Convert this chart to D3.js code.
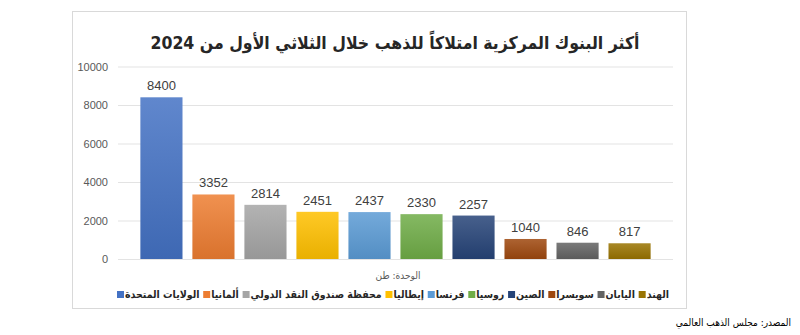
<!DOCTYPE html>
<html lang="ar">
<head>
<meta charset="utf-8">
<script src="https://cdn.jsdelivr.net/npm/d3@7/dist/d3.min.js"></script>
<style>
  html, body { margin: 0; padding: 0; background: #fff; }
  svg { display: block; font-family: Arial, "Liberation Sans", "DejaVu Sans", sans-serif; }
  .ar { font-family: "DejaVu Sans Condensed", "DejaVu Sans", sans-serif; }
</style>
</head>
<body>
<svg id="chart" width="800" height="335"></svg>
<script>
// Gold holdings of the top central banks, Q1 2024 (tonnes)
const categories = [
  "الولايات المتحدة", "ألمانيا", "محفظة صندوق النقد الدولي", "إيطاليا", "فرنسا",
  "روسيا", "الصين", "سويسرا", "اليابان", "الهند"
];
const values = [8400, 3352, 2814, 2451, 2437, 2330, 2257, 1040, 846, 817];
const colors = [
  "#4472c4", "#ed7d31", "#a5a5a5", "#ffc000", "#5b9bd5",
  "#70ad47", "#264478", "#9e480e", "#636363", "#997300"
];
const yTicks = [0, 2000, 4000, 6000, 8000, 10000];
const titleText = "أكثر البنوك المركزية امتلاكاً للذهب خلال الثلاثي الأول من 2024";
const unitText = "الوحدة: طن";
const sourceText = "المصدر: مجلس الذهب العالمي";

const svg = d3.select("#chart");

// chart frame
svg.append("rect")
  .attr("x", 72.5).attr("y", 11.5).attr("width", 614).attr("height", 297)
  .attr("fill", "#fff").attr("stroke", "#d9d9d9");

const plot = { left: 118, right: 673, top: 66.5, bottom: 259 };

const x = d3.scaleBand()
  .domain(categories)
  .range([plot.left, plot.right])
  .paddingInner(0.19)
  .paddingOuter(0.43);

const y = d3.scaleLinear()
  .domain([0, 10000])
  .range([plot.bottom, plot.top]);

// gradients: lighter top, deeper bottom
const defs = svg.append("defs");
categories.forEach((c, i) => {
  const base = d3.rgb(colors[i]);
  const g = defs.append("linearGradient")
    .attr("id", "grad" + i)
    .attr("x1", 0).attr("y1", 0).attr("x2", 0).attr("y2", 1);
  g.append("stop").attr("offset", "0%").attr("stop-color", d3.interpolateRgb(base, "#fff")(0.15));
  g.append("stop").attr("offset", "100%").attr("stop-color", base.darker(0.25));
});

// gridlines and y axis labels
const yAxis = d3.axisLeft(y)
  .tickValues(yTicks)
  .tickSize(-(plot.right - plot.left))
  .tickPadding(10)
  .tickFormat(d3.format("d"));

const gy = svg.append("g")
  .attr("transform", `translate(${plot.left},0)`)
  .call(yAxis);
gy.select(".domain").remove();
gy.selectAll(".tick line").attr("stroke", "#e3e3e3");
gy.selectAll(".tick text")
  .attr("fill", "#595959")
  .style("font-size", "11px")
  .style("font-family", "Arial, 'Liberation Sans', sans-serif");

// bars
svg.append("g").selectAll("rect")
  .data(values)
  .join("rect")
  .attr("x", (d, i) => x(categories[i]))
  .attr("y", d => y(d))
  .attr("width", x.bandwidth())
  .attr("height", d => y(0) - y(d))
  .attr("fill", (d, i) => `url(#grad${i})`);

// value labels
svg.append("g").selectAll("text")
  .data(values)
  .join("text")
  .attr("x", (d, i) => x(categories[i]) + x.bandwidth() / 2)
  .attr("y", d => y(d) - 7)
  .attr("text-anchor", "middle")
  .attr("fill", "#404040")
  .style("font-size", "13px")
  .text(d => d);

// title
svg.append("text")
  .attr("class", "ar")
  .attr("x", 395).attr("y", 49)
  .attr("text-anchor", "middle")
  .attr("fill", "#262626")
  .style("font-size", "17.5px")
  .style("font-weight", "bold")
  .text(titleText);

// unit note
svg.append("text")
  .attr("class", "ar")
  .attr("x", 398).attr("y", 279)
  .attr("text-anchor", "middle")
  .attr("fill", "#595959")
  .style("font-size", "10px")
  .text(unitText);

// legend: swatch on the left of each name, laid out left to right
const legend = svg.append("g");
const items = legend.selectAll("g")
  .data(categories)
  .join("g");
items.append("rect")
  .attr("width", 7).attr("height", 7)
  .attr("y", -7)
  .attr("fill", (d, i) => colors[i]);
items.append("text")
  .attr("class", "ar")
  .attr("x", 8)
  .attr("y", 0)
  .attr("fill", "#262626")
  .style("font-size", "10.5px")
  .style("font-weight", "bold")
  .text(d => d);

const widths = [];
items.each(function () {
  widths.push(8 + d3.select(this).select("text").node().getComputedTextLength());
});
const legendStart = 117;
const legendEnd = 669;
const spacing = Math.max(3, (legendEnd - legendStart - d3.sum(widths)) / (widths.length - 1));
let cursor = 0;
items.attr("transform", (d, i) => {
  const t = `translate(${legendStart + cursor},298)`;
  cursor += widths[i] + spacing;
  return t;
});

// source note
svg.append("text")
  .attr("class", "ar")
  .attr("x", 791).attr("y", 326)
  .attr("text-anchor", "end")
  .attr("fill", "#000")
  .style("font-size", "10px")
  .text(sourceText);
</script>
</body>
</html>
